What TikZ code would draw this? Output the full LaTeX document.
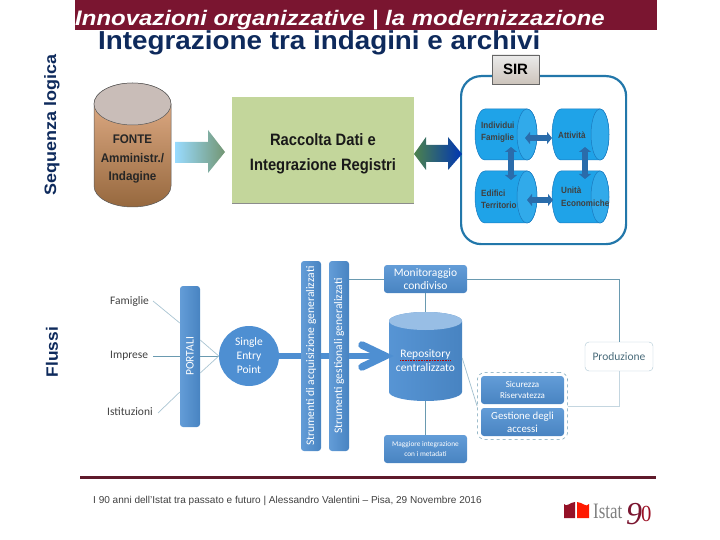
\documentclass[tikz,border=0pt]{standalone}
\usepackage{fontspec}
\setmainfont{Liberation Sans}
\newfontfamily\flowfont{Carlito}
\newfontfamily\logofont{Liberation Serif}
\usepackage{tikz}
\usetikzlibrary{shapes.geometric, arrows.meta, positioning, fit, calc}
\definecolor{barred}{HTML}{7A1530}
\definecolor{ruledark}{HTML}{5F1A2B}
\definecolor{titleblue}{HTML}{0E2A5C}
\definecolor{flowblue}{HTML}{4E8FD2}
\definecolor{sirblue}{HTML}{1FA3E8}
\definecolor{sirline}{HTML}{1A7ABF}
\definecolor{framelue}{HTML}{2277AA}
\definecolor{blockblue}{HTML}{2A6CAB}
\definecolor{linkblue}{HTML}{6A9AB0}
\definecolor{linkpale}{HTML}{C4D6E0}
\definecolor{greenbox}{HTML}{C3D69B}
\definecolor{fontetop}{HTML}{E8B48E}
\definecolor{fontemid}{HTML}{F8CCAA}
\definecolor{fontelow}{HTML}{96683E}
\definecolor{fontelid}{HTML}{C9BDB8}

% upright drum: centre x, top y, bottom y, radii, body look, lid look
\newcommand{\uprightdb}[7]{
    \path [#6] ({#1-#4},#2) -- ({#1-#4},#3) arc [start angle=180, end angle=360, x radius=#4pt, y radius=#5pt] -- ({#1+#4},#2) arc [start angle=0, end angle=180, x radius=#4pt, y radius=#5pt] -- cycle;
    \path [#7] (#1,#2) ellipse [x radius=#4pt, y radius=#5pt];
}
% lying drum: left centre x, right centre x, centre y, radii
\newcommand{\lyingdb}[5]{
    \path [sirdrum, fill=sirblue] (#1,{#3-#5}) -- (#2,{#3-#5}) arc [start angle=90, end angle=-90, x radius=#4pt, y radius=#5pt] -- (#1,{#3+#5}) arc [start angle=270, end angle=90, x radius=#4pt, y radius=#5pt] -- cycle;
    \path [sirdrum, fill=sirblue!92!white] (#2,#3) ellipse [x radius=#4pt, y radius=#5pt];
}

\begin{document}
\begin{tikzpicture}[x=1pt, y=-1pt,
    flowbox/.style={rectangle, top color=flowblue!88!white, bottom color=flowblue!92!black, text=white, rounded corners=3pt, align=center, inner sep=0pt, minimum width=83pt, minimum height=28pt, font=\flowfont\fontsize{11.5}{13.5}\selectfont},
    flowbar/.style={rectangle, left color=flowblue!88!white, right color=flowblue!92!black, text=white, rounded corners=3pt, inner sep=0pt, minimum width=20pt, font=\flowfont\fontsize{11.6}{13}\selectfont},
    sirdrum/.style={draw=sirline, line width=0.5pt},
    sirtext/.style={font=\fontsize{9}{12.5}\bfseries\selectfont, align=left, anchor=west, inner sep=0pt, xscale=0.9, text=black!75},
    flowtext/.style={font=\flowfont\fontsize{11.5}{13}\selectfont, anchor=west, inner sep=0pt, text=black!75},
    dbarea/.style={rectangle, inner sep=0pt},
    sidelabel/.style={rotate=90, font=\fontsize{16.5}{18}\bfseries\selectfont, text=titleblue},
    linkline/.style={draw=linkblue, line width=0.7pt},
    paleline/.style={draw=linkpale, line width=0.7pt},
    blockarrow/.style={{Triangle[length=5pt,width=12pt]}-{Triangle[length=5pt,width=12pt]}, draw=blockblue, line width=6pt}]

    \useasboundingbox (0,0) rectangle (720,540);

    % header
    \node [fill=barred, minimum width=582pt, minimum height=30pt, anchor=north west, inner sep=0pt] (bar) at (75,0) {};
    \node [anchor=base west, inner sep=0pt, text=white, xscale=1.14, font=\fontsize{21}{24}\bfseries\itshape\selectfont] (head) at (75,26) {Innovazioni organizzative | la modernizzazione};
    \node [anchor=base west, inner sep=0pt, text=titleblue, xscale=1.07, font=\fontsize{26}{28}\bfseries\selectfont] (title) at (98,50) {Integrazione tra indagini e archivi};
    \node [sidelabel, xscale=1.09] (seq) at (52,125) {Sequenza logica};
    \node [sidelabel, xscale=1.05] (flussi) at (52,352) {Flussi};

    % top row
    \uprightdb{132.5}{104}{186}{38.5}{21}{draw=black!65, line width=0.5pt, top color=fontetop, middle color=fontemid, bottom color=fontelow}{draw=black!65, line width=0.5pt, fill=fontelid}
    \node [dbarea, minimum width=77pt, minimum height=124pt] (fonte) at (132.5,145) {};
    \node [align=center, font=\fontsize{12.5}{18.5}\bfseries\selectfont, text=black!85, xscale=0.93] (fontetext) at (132.5,159) {FONTE\\Amministr./\\Indagine};
    \shade [left color=blue!35!cyan!40, right color=green!25!black!55] (175,142) -- (208,142) -- (208,130) -- (225,152) -- (208,173) -- (208,163) -- (175,163) -- cycle;
    \node [fill=greenbox, minimum width=182pt, minimum height=106pt, inner sep=0pt, anchor=north west] (raccolta) at (232,97) {};
    \draw [black!45, line width=1pt] (raccolta.south west) -- (raccolta.south east);
    \node [align=center, font=\fontsize{16.5}{25}\bfseries\selectfont, text=black!90, xscale=0.895] (raccoltatext) at (323,153.5) {Raccolta Dati e\\Integrazione Registri};

    % SIR block
    \node [draw=framelue, line width=2.2pt, rounded corners=20pt, minimum width=165pt, minimum height=168pt, inner sep=0pt, anchor=north west] (sirframe) at (460,75) {};
    \node [draw=black!60, top color=black!8, bottom color=brown!45!black!30, minimum width=47pt, minimum height=29pt, inner sep=0pt, font=\fontsize{15}{17}\bfseries\selectfont] (sir) at (515.5,69.5) {SIR};
    \lyingdb{485}{527}{134.5}{10}{25.5}
    \lyingdb{561}{600}{134.5}{9}{25.5}
    \lyingdb{485}{527}{197}{10}{26}
    \lyingdb{561}{600}{197}{9}{26}
    \node [dbarea, minimum width=62pt, minimum height=51pt] (indiv) at (506,134.5) {};
    \node [dbarea, minimum width=57pt, minimum height=51pt] (attiv) at (580.5,134.5) {};
    \node [dbarea, minimum width=62pt, minimum height=52pt] (edif) at (506,197) {};
    \node [dbarea, minimum width=57pt, minimum height=52pt] (unita) at (580.5,197) {};
    \node [sirtext] (indivtext) at (481,132) {Individui\\Famiglie};
    \node [sirtext] (attivtext) at (558,135) {Attività};
    \node [sirtext] (ediftext) at (481,199.5) {Edifici\\Territorio};
    \node [sirtext] (unitatext) at (561,196.5) {Unità\\Economiche};
    \shade [left color=green!30!black!70, right color=blue!70!cyan!70!black] (414,154) -- (426,137) -- (426,145) -- (448,145) -- (448,137) -- (462,154) -- (448,170) -- (448,162) -- (426,162) -- (426,170) -- cycle;
    \coordinate (indivout) at (525,138);
    \coordinate (attivin) at (552,138);
    \coordinate (edifout) at (527,200);
    \coordinate (unitain) at (553,200);
    \coordinate (indivdown) at (511,147);
    \coordinate (edifup) at (511,180);
    \coordinate (attivdown) at (585,147);
    \coordinate (unitaup) at (585,179);
    \foreach \src/\dst in {indivout/attivin, edifout/unitain, indivdown/edifup, attivdown/unitaup}
        \draw [blockarrow] (\src) -- (\dst);

    % bottom row
    \node [flowtext] (fam) at (110,301) {Famiglie};
    \node [flowtext] (imp) at (110,356) {Imprese};
    \node [flowtext] (ist) at (107,412) {Istituzioni};
    \node [flowbar, minimum height=141pt, font=\flowfont\fontsize{11.5}{13}\selectfont] (portali) at (190,356.5) {\rotatebox{90}{PORTALI}};
    \node [circle, fill=flowblue, text=white, minimum size=60pt, inner sep=0pt, align=center, font=\flowfont\fontsize{11.5}{14}\selectfont] (single) at (249,356) {Single\\Entry\\Point};
    \node [flowbar, minimum height=190pt] (acq) at (311,356) {\rotatebox{90}{Strumenti di acquisizione generalizzati}};
    \node [flowbar, minimum height=190pt] (gest) at (339,356) {\rotatebox{90}{Strumenti gestionali generalizzati}};
    \node [flowbox] (monit) at (425.5,279) {Monitoraggio\\condiviso};
    \uprightdb{425.5}{321}{392}{36.5}{9}{left color=flowblue!95!white, right color=flowblue!92!black}{fill=flowblue!58!white}
    \node [dbarea, minimum width=73pt, minimum height=89pt] (repo) at (425.5,356.5) {};
    \node [align=center, text=white, inner sep=0pt, font=\flowfont\fontsize{11.5}{14}\selectfont] (repotext) at (425.5,361) {Repository\\centralizzato};
    \draw [red!70!black, densely dotted, line width=0.6pt] (400,360) -- (451,360);
    \node [flowbox, font=\flowfont\fontsize{7.3}{9.5}\selectfont] (magg) at (425.5,449) {Maggiore integrazione\\con i metadati};
    \node [flowbox, font=\flowfont\fontsize{9}{11.5}\selectfont] (sicur) at (522.5,390) {Sicurezza\\Riservatezza};
    \node [flowbox, font=\flowfont\fontsize{10.8}{13}\selectfont] (gestac) at (522.5,422) {Gestione degli\\accessi};
    \node [draw=linkblue, dashed, rounded corners=8pt, fit=(sicur)(gestac), inner sep=3.5pt, line width=0.5pt] (secgroup) {};
    \node [draw=linkblue!55!white, fill=white, rounded corners=4pt, minimum width=68pt, minimum height=29pt, inner sep=0pt, text=linkblue!70!black, font=\flowfont\fontsize{11.5}{13}\selectfont] (prod) at (619,356.5) {Produzione};

    \draw [linkline, draw=linkpale!70!linkblue] (153,301) -- (portali.west |- 0,323);
    \draw [linkline] (153,356) -- (portali.west |- 0,356);
    \draw [linkline, draw=linkpale!70!linkblue] (158,413) -- (portali.west |- 0,392);
    \draw [linkline, draw=linkpale!70!linkblue] (portali.east |- 0,340) -- (single.west);
    \draw [linkline] (portali.east |- 0,356) -- (single.west);
    \draw [linkline, draw=linkpale!70!linkblue] (portali.east |- 0,373) -- (single.west);
    \draw [flowblue, line width=6.5pt] (single.east) -- (acq.west);
    \draw [flowblue, line width=6.5pt] (acq.east) -- (gest.west);
    \draw [flowblue, line width=6.5pt] (gest.east) -- (385,356);
    \draw [flowblue, line width=7.5pt, line cap=round, line join=miter] (362,345) -- (385,356) -- (362,367);
    \draw [linkline] (gest.east |- monit.west) -- (monit.west);
    \draw [linkline] (monit.south) -- (repo.north);
    \draw [linkline] (repo.south) -- (magg.north);
    \draw [linkline] (monit.east) -| (prod.north);
    \draw [paleline] (secgroup.east) -| (prod.south);
    \draw [linkline, draw=linkpale!60!linkblue] (repo.east |- 0,358) -- (secgroup.west);

    % footer
    \draw [ruledark, line width=3pt] (80,477) -- (656,477);
    \node [anchor=base west, inner sep=0pt, text=black!75, font=\fontsize{10.05}{12}\selectfont] (foot) at (93,503) {I 90 anni dell'Istat tra passato e futuro | Alessandro Valentini -- Pisa, 29 Novembre 2016};
    \fill [barred!80!red] (564,504) to[out=-60,in=180] (575,502) -- (575,518) -- (564,518) -- cycle;
    \fill [red!80!orange] (577,502) to[out=0,in=240] (589,504) -- (589,518) -- (577,518) -- cycle;
    \node [anchor=base west, inner sep=0pt, text=black!50, xscale=0.77, font=\logofont\fontsize{22}{24}\selectfont] (logoname) at (593,518) {Istat};
    \node [anchor=base west, inner sep=0pt, text=barred, font=\logofont\itshape\fontsize{32}{34}\selectfont] (logonine) at (626,524) {9};
    \node [anchor=base west, inner sep=0pt, text=barred!75!red, xscale=0.9, font=\logofont\fontsize{23}{25}\selectfont] (logozero) at (641,521) {0};
\end{tikzpicture}
\end{document}
